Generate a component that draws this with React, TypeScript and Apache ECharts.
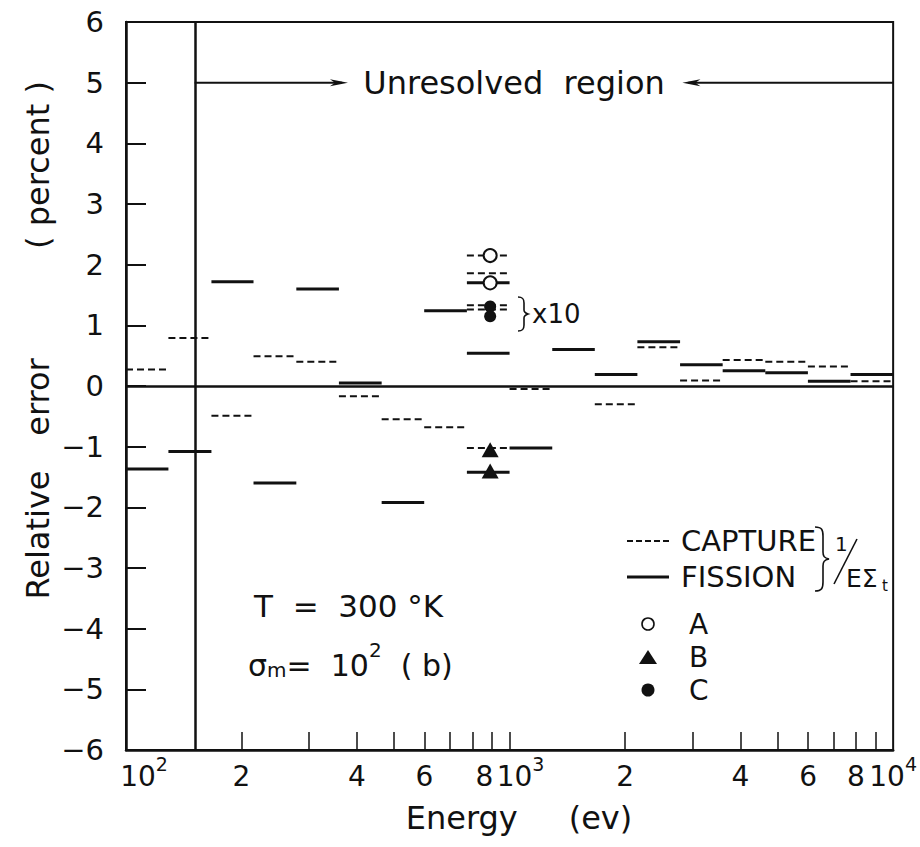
import React, { useEffect, useRef } from "react";
import * as echarts from "echarts";

// ---- data ----
const groupEdges = [100, 129, 167, 215, 278, 359, 464, 599, 774, 1000, 1292, 1668, 2154, 2783, 3594, 4642, 5995, 7743, 10000];
const captureValues = [0.27, 0.79, -0.49, 0.49, 0.4, -0.17, -0.55, -0.68, null, -0.05, null, -0.3, 0.64, 0.09, 0.43, 0.4, 0.32, 0.08];
const fissionValues = [-1.37, -1.08, 1.72, -1.6, 1.6, 0.05, -1.92, 1.24, 0.54, -1.02, 0.6, 0.19, 0.73, 0.35, 0.25, 0.22, 0.08, 0.19];
const markerGroup = 8;
const captureX10 = [2.15, 1.86, 1.33, 1.26];
const fissionX10 = [1.7];
const captureB = [-1.02];
const fissionB = [-1.42];
const markerEnergy = 890;
const pointsA = [2.15, 1.7];
const pointsB = [-1.05, -1.4];
const pointsC = [1.31, 1.15];
const unresolvedStart = 151;
const arrowLeftTip = 379;
const arrowRightTip = 2822;
const arrowLevel = 5;
const xTickEnergies = [200, 300, 400, 500, 600, 700, 800, 900, 1000, 2000, 3000, 4000, 5000, 6000, 7000, 8000, 9000];
const xLabelEnergies = [100, 200, 400, 600, 800, 1000, 2000, 4000, 6000, 8000, 10000];
const xLabelTexts = ["{p2|10}{sup|2}", "{n|2}", "{n|4}", "{n|6}", "{p8|8}", "{p3|10}{sup|3}", "{n|2}", "{n|4}", "{n|6}", "{n|8}", "{n|10}{sup|4}"];

const FONT = "'DejaVu Sans', 'Liberation Sans', sans-serif";
const INK = "#111";
const lg = (v: number) => Math.log10(v);

function buildSegments(values: (number | null)[]) {
  const out: number[][] = [];
  values.forEach((v, i) => {
    if (v === null) return;
    out.push([lg(groupEdges[i]), lg(groupEdges[i + 1]), v]);
  });
  return out;
}
function groupSegs(values: number[], g: number) {
  return values.map((v) => [lg(groupEdges[g]), lg(groupEdges[g + 1]), v]);
}

function segSeries(name: string, data: number[][], dashed: boolean, width: number) {
  return {
    type: "custom",
    name,
    silent: true,
    z: 3,
    encode: { x: [0, 1], y: 2 },
    data,
    renderItem: (_p: any, api: any) => {
      const y = api.value(2);
      const a = api.coord([api.value(0), y]);
      const b = api.coord([api.value(1), y]);
      return {
        type: "line",
        shape: { x1: a[0], y1: a[1], x2: b[0], y2: b[1] },
        style: { stroke: INK, lineWidth: width, lineDash: dashed ? [7, 4] : null },
      };
    },
  };
}

export default function App() {
  const ref = useRef<HTMLDivElement>(null);
  useEffect(() => {
    if (!ref.current) return;
    const chart = echarts.init(ref.current, undefined, { renderer: "svg" });

    const captureData = [...buildSegments(captureValues), ...groupSegs(captureX10, markerGroup), ...groupSegs(captureB, markerGroup)];
    const fissionData = [...buildSegments(fissionValues), ...groupSegs(fissionX10, markerGroup), ...groupSegs(fissionB, markerGroup)];
    const arrowData = [
      [lg(unresolvedStart), lg(arrowLeftTip), arrowLevel],
      [lg(groupEdges[groupEdges.length - 1]), lg(arrowRightTip), arrowLevel],
    ];

    const braceBig = "M0,0 C7,0 8,3 8,9 L8,25 C8,29 9,31 14,32 C9,33 8,35 8,39 L8,55 C8,61 7,64 0,64";
    const braceSmall = "M0,0 C5,0 6,2 6,6 L6,13 C6,15 7,16 10,17 C7,18 6,19 6,21 L6,28 C6,32 5,34 0,34";
    echarts.graphic.registerShape("braceBig", echarts.graphic.extendPath(braceBig, {}) as any);
    echarts.graphic.registerShape("braceSmall", echarts.graphic.extendPath(braceSmall, {}) as any);

    const richBase = { fontSize: 28, fontFamily: FONT, color: INK, verticalAlign: "bottom", lineHeight: 36 };
    const option: any = {
      animation: false,
      backgroundColor: "#fff",
      grid: { left: 126, right: 26, top: 22, bottom: 97, show: true, borderColor: INK, borderWidth: 2, backgroundColor: "transparent" },
      xAxis: {
        type: "value",
        min: 2,
        max: 4,
        splitLine: { show: false },
        axisLine: { onZero: false, lineStyle: { color: INK, width: 2.5 } },
        axisTick: { inside: true, length: 18, lineStyle: { color: INK, width: 1.5 }, customValues: xTickEnergies.map(lg) },
        axisLabel: {
          customValues: xLabelEnergies.map(lg),
          margin: 4,
          fontFamily: FONT,
          color: INK,
          fontSize: 28,
          formatter: (v: number) => {
            const i = xLabelEnergies.findIndex((e) => Math.abs(lg(e) - v) < 1e-6);
            return i >= 0 ? xLabelTexts[i] : "";
          },
          rich: {
            n: richBase,
            p2: { ...richBase, padding: [0, 0, 0, 36] },
            p3: { ...richBase, padding: [0, 0, 0, 22] },
            p8: { ...richBase, padding: [0, 0, 0, 24] },
            sup: { fontSize: 19, fontFamily: FONT, color: INK, verticalAlign: "top", lineHeight: 20 },
          },
        },
      },
      yAxis: {
        type: "value",
        min: -6,
        max: 6,
        interval: 1,
        splitLine: { show: false },
        axisLine: { onZero: false, lineStyle: { color: INK, width: 2.5 } },
        axisTick: { inside: true, length: 20, lineStyle: { color: INK, width: 2 } },
        axisLabel: {
          fontFamily: FONT,
          color: INK,
          fontSize: 29,
          margin: 22,
          formatter: (v: number) => (v < 0 ? "\u2212" + Math.abs(v) : String(v)),
        },
      },
      series: [
        segSeries("CAPTURE", captureData, true, 2),
        segSeries("FISSION", fissionData, false, 3),
        {
          type: "custom",
          name: "arrows",
          silent: true,
          encode: { x: [0, 1], y: 2 },
          data: arrowData,
          renderItem: (_p: any, api: any) => {
            const y = api.value(2);
            const a = api.coord([api.value(0), y]);
            const b = api.coord([api.value(1), y]);
            const d = b[0] > a[0] ? 1 : -1;
            return {
              type: "group",
              children: [
                { type: "line", shape: { x1: a[0], y1: a[1], x2: b[0] - d * 6, y2: b[1] }, style: { stroke: INK, lineWidth: 2 } },
                {
                  type: "polygon",
                  shape: { points: [[b[0], b[1]], [b[0] - d * 18, b[1] - 3.5], [b[0] - d * 13, b[1]], [b[0] - d * 18, b[1] + 3.5]] },
                  style: { fill: INK },
                },
              ],
            };
          },
        },
        {
          type: "scatter",
          name: "A",
          symbol: "emptyCircle",
          symbolSize: 13,
          itemStyle: { color: INK, borderWidth: 1.5, opacity: 1 },
          z: 5,
          data: pointsA.map((v) => [lg(markerEnergy), v]),
          markLine: {
            silent: true,
            symbol: "none",
            label: { show: false },
            lineStyle: { color: INK, width: 2.5, type: "solid" },
            data: [{ yAxis: 0 }, { xAxis: lg(unresolvedStart) }],
          },
        },
        {
          type: "scatter",
          name: "B",
          symbol: "triangle",
          symbolSize: [17, 15],
          itemStyle: { color: INK, opacity: 1 },
          z: 5,
          data: pointsB.map((v) => [lg(markerEnergy), v]),
        },
        {
          type: "scatter",
          name: "C",
          symbol: "circle",
          symbolSize: 12,
          itemStyle: { color: INK, opacity: 1 },
          z: 5,
          data: pointsC.map((v) => [lg(markerEnergy), v]),
        },
      ],
      graphic: [
        { type: "text", x: 514, y: 83, style: { text: "Unresolved  region", font: `32px ${FONT}`, fill: INK, align: "center", verticalAlign: "middle" } },
        { type: "text", x: 38, y: 165, rotation: Math.PI / 2, style: { text: "( percent )", font: `32px ${FONT}`, fill: INK, align: "center", verticalAlign: "middle" } },
        { type: "text", x: 38, y: 397, rotation: Math.PI / 2, style: { text: "error", font: `32px ${FONT}`, fill: INK, align: "center", verticalAlign: "middle" } },
        { type: "text", x: 38, y: 535, rotation: Math.PI / 2, style: { text: "Relative", font: `32px ${FONT}`, fill: INK, align: "center", verticalAlign: "middle" } },
        { type: "text", x: 519, y: 818, style: { text: "Energy     (ev)", font: `32px ${FONT}`, fill: INK, align: "center", verticalAlign: "middle" } },
        // x10 brace
        { type: "braceSmall", x: 518, y: 297, style: { stroke: INK, lineWidth: 1.6, fill: null } },
        { type: "text", x: 532, y: 314, style: { text: "x10", font: `26px ${FONT}`, fill: INK, align: "left", verticalAlign: "middle" } },
        // T and sigma
        { type: "text", x: 254, y: 606, style: { text: "T  =  300 \u00B0K", font: `31px ${FONT}`, fill: INK, align: "left", verticalAlign: "middle" } },
        {
          type: "text",
          x: 248,
          y: 660,
          style: {
            text: "{s|\u03C3}{sub|m}{n|=  10}{sup|2}{n|  ( b)}",
            align: "left",
            verticalAlign: "middle",
            rich: {
              s: { fontSize: 30, fontFamily: FONT, fill: INK, verticalAlign: "bottom", lineHeight: 40 },
              n: { fontSize: 30, fontFamily: FONT, fill: INK, verticalAlign: "bottom", lineHeight: 40 },
              sub: { fontSize: 20, fontFamily: FONT, fill: INK, verticalAlign: "bottom", lineHeight: 20 },
              sup: { fontSize: 20, fontFamily: FONT, fill: INK, verticalAlign: "top", lineHeight: 20 },
            },
          },
        },
        // legend
        { type: "line", shape: { x1: 627, y1: 541, x2: 669, y2: 541 }, style: { stroke: INK, lineWidth: 2, lineDash: [6, 3] } },
        { type: "text", x: 681, y: 541, style: { text: "CAPTURE", font: `29px ${FONT}`, fill: INK, align: "left", verticalAlign: "middle" } },
        { type: "line", shape: { x1: 627, y1: 577, x2: 669, y2: 577 }, style: { stroke: INK, lineWidth: 3 } },
        { type: "text", x: 681, y: 577, style: { text: "FISSION", font: `29px ${FONT}`, fill: INK, align: "left", verticalAlign: "middle" } },
        { type: "braceBig", x: 815, y: 527, style: { stroke: INK, lineWidth: 1.6, fill: null } },
        { type: "text", x: 835, y: 544, style: { text: "1", font: `20px ${FONT}`, fill: INK, align: "left", verticalAlign: "middle" } },
        { type: "line", shape: { x1: 834, y1: 584, x2: 857, y2: 539 }, style: { stroke: INK, lineWidth: 1.6 } },
        { type: "text", x: 846, y: 578, style: { text: "E\u03A3", font: `25px ${FONT}`, fill: INK, align: "left", verticalAlign: "middle" } },
        { type: "text", x: 882, y: 586, style: { text: "t", font: `15px ${FONT}`, fill: INK, align: "left", verticalAlign: "middle" } },
        { type: "circle", shape: { cx: 648, cy: 624, r: 6 }, style: { stroke: INK, lineWidth: 1.6, fill: "#fff" } },
        { type: "text", x: 689, y: 624, style: { text: "A", font: `28px ${FONT}`, fill: INK, align: "left", verticalAlign: "middle" } },
        { type: "polygon", shape: { points: [[639, 664], [657, 664], [648, 650]] }, style: { fill: INK } },
        { type: "text", x: 689, y: 657, style: { text: "B", font: `28px ${FONT}`, fill: INK, align: "left", verticalAlign: "middle" } },
        { type: "circle", shape: { cx: 648, cy: 690, r: 6.5 }, style: { fill: INK } },
        { type: "text", x: 689, y: 690, style: { text: "C", font: `28px ${FONT}`, fill: INK, align: "left", verticalAlign: "middle" } },
      ],
    };
    chart.setOption(option);
    return () => chart.dispose();
  }, []);
  return <div ref={ref} style={{ position: "absolute", left: 0, top: 0, width: 920, height: 847 }} />;
}
